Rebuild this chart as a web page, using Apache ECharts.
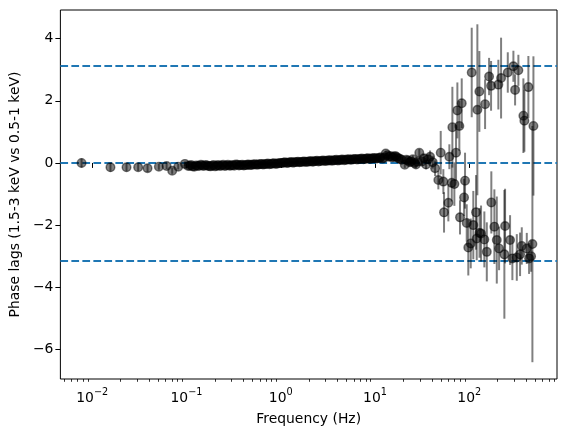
<!DOCTYPE html>
<html>
<head>
<meta charset="utf-8">
<script src="https://cdn.jsdelivr.net/npm/echarts@6/dist/echarts.min.js"></script>
<style>
  html, body { margin: 0; padding: 0; background: #fff; }
  #chart { width: 565px; height: 437px; }
</style>
</head>
<body>
<div id="chart"></div>
<script>
// frequency (Hz), phase lag (rad) and its 1-sigma error
const freqHz = [
  0.0077, 0.0156, 0.0231, 0.0307, 0.0386, 0.0509, 0.0615, 0.0705, 0.0817, 0.0962,
  0.104, 0.112, 0.121, 0.131, 0.142, 0.153, 0.166, 0.179, 0.194, 0.209,
  0.226, 0.245, 0.264, 0.286, 0.309, 0.334, 0.361, 0.39, 0.422, 0.456,
  0.493, 0.533, 0.576, 0.623, 0.673, 0.728, 0.787, 0.851, 0.92, 0.994,
  1.07, 1.16, 1.25, 1.35, 1.46, 1.58, 1.71, 1.85, 2.0, 2.16,
  2.33, 2.52, 2.73, 2.95, 3.19, 3.45, 3.73, 4.03, 4.36, 4.71,
  5.09, 5.5, 5.95, 6.43, 6.95, 7.52, 8.13, 8.79, 9.5, 10.27,
  11.1, 12.0, 13.0, 14.0, 15.2, 16.4, 17.7, 19.2, 20.7, 22.4,
  24.2, 26.2, 28.3,
  29.5, 31.6, 33.0, 34.8, 36.5, 38.4, 41.0, 43.4, 47.0, 49.8,
  53.1, 54.0, 60.0, 61.5, 65.2, 66.2, 69.5, 72.4, 74.8, 78.5,
  79.8, 83.2, 88.1, 90.2, 94.0, 97.7, 103.7, 106.2, 110.4, 118,
  120, 121.9, 128, 128.5, 133.4, 144.6, 147.2, 153.5, 162.3, 170.4,
  171.5, 184.7, 195.9, 203.6, 207.2, 217.6, 235.8, 239.9, 256.3, 271,
  286.8, 294, 306.4, 319.4, 332, 346, 360.8, 375.2, 384.5, 407.7,
  423.9, 431.3, 453, 467.7, 479.5
];
const lagRad = [
  0.0, -0.14, -0.14, -0.14, -0.17, -0.12, -0.1, -0.25, -0.12, -0.03,
  -0.1, -0.07, -0.12, -0.09, -0.06, -0.1, -0.08, -0.11, -0.07, -0.09,
  -0.1, -0.06, -0.08, -0.09, -0.07, -0.05, -0.08, -0.06, -0.07, -0.05,
  -0.06, -0.04, -0.05, -0.03, -0.04, -0.02, -0.03, -0.01, -0.02, 0.0,
  0.01, 0.0, 0.02, 0.01, 0.03, 0.02, 0.04, 0.03, 0.05, 0.04,
  0.06, 0.05, 0.07, 0.06, 0.08, 0.07, 0.09, 0.08, 0.1, 0.09,
  0.11, 0.1, 0.12, 0.11, 0.13, 0.12, 0.14, 0.13, 0.15, 0.14,
  0.16, 0.14, 0.3, 0.2, 0.18, 0.22, 0.15, 0.1, -0.06, 0.08,
  0.05, 0.0, 0.04,
  0.33, 0.05, 0.15, -0.05, 0.12, 0.2, 0.02, -0.17, -0.55, 0.33,
  -0.6, -1.59, -1.28, 0.2, -0.64, 1.15, -0.68, 0.33, 1.69, 1.19,
  -1.75, 1.92, -1.11, -0.57, -1.93, -2.72, -2.59, 2.91, -2.0, -1.59,
  -2.43, 1.71, 2.3, -2.25, -2.27, -2.46, 1.89, -2.86, 2.78, 2.48,
  -1.27, -2.05, -2.48, 2.52, -2.75, 2.73, -2.94, -2.03, 2.91, -2.48,
  -3.07, 3.11, 2.35, -3.04, 2.98, -2.94, -2.67, 1.52, 1.36, -2.75,
  2.44, -3.07, -3.0, -2.61, 1.19
];
const lagErr = [
  0.15, 0.14, 0.13, 0.12, 0.12, 0.1, 0.1, 0.1, 0.09, 0.08,
  0.07, 0.07, 0.07, 0.06, 0.06, 0.06, 0.06, 0.05, 0.05, 0.05,
  0.05, 0.05, 0.05, 0.04, 0.04, 0.04, 0.04, 0.04, 0.04, 0.04,
  0.03, 0.03, 0.03, 0.03, 0.03, 0.03, 0.03, 0.03, 0.03, 0.03,
  0.03, 0.03, 0.03, 0.03, 0.03, 0.03, 0.03, 0.03, 0.03, 0.03,
  0.03, 0.03, 0.03, 0.03, 0.03, 0.03, 0.03, 0.03, 0.04, 0.04,
  0.04, 0.04, 0.04, 0.04, 0.05, 0.05, 0.05, 0.05, 0.05, 0.06,
  0.06, 0.06, 0.08, 0.07, 0.07, 0.08, 0.08, 0.1, 0.1, 0.1,
  0.12, 0.12, 0.12,
  0.12, 0.12, 0.14, 0.15, 0.15, 0.2, 0.2, 0.25, 0.3, 0.7,
  0.4, 0.65, 0.6, 0.4, 0.6, 1.3, 0.7, 0.9, 0.9, 0.8,
  0.55, 0.8, 0.6, 0.9, 0.6, 0.9, 0.8, 1.44, 1.1, 1.2,
  0.7, 2.75, 1.3, 0.8, 0.9, 0.9, 0.8, 0.95, 0.6, 0.8,
  1.0, 1.2, 1.4, 0.8, 0.7, 1.3, 2.07, 1.2, 0.65, 0.8,
  0.7, 0.5, 0.5, 0.75, 0.5, 0.7, 0.6, 1.2, 1.0, 0.5,
  1.0, 0.5, 0.5, 3.8, 2.24
];

// second set of bins filling the dense 0.1-30 Hz band
const bandFreqHz = [
  0.108, 0.116, 0.126, 0.136, 0.147, 0.159, 0.172, 0.186, 0.201, 0.217,
  0.235, 0.254, 0.275, 0.297, 0.321, 0.347, 0.375, 0.406, 0.439, 0.474,
  0.513, 0.554, 0.599, 0.648, 0.7, 0.757, 0.818, 0.885, 0.956,
  1.03, 1.11, 1.2, 1.3, 1.4, 1.52, 1.64, 1.78, 1.92, 2.08,
  2.24, 2.42, 2.62, 2.84, 3.07, 3.32, 3.59, 3.88, 4.19, 4.53,
  4.9, 5.29, 5.72, 6.18, 6.68, 7.23, 7.82, 8.45, 9.14, 9.88,
  10.7, 11.5, 12.5, 13.5, 14.6, 15.8, 17.0, 18.4, 21.5, 23.3,
  25.2, 27.2
];
const bandLag = [
  -0.09, -0.11, -0.08, -0.1, -0.08, -0.07, -0.1, -0.09, -0.11, -0.07,
  -0.08, -0.1, -0.06, -0.08, -0.09, -0.06, -0.07, -0.08, -0.06, -0.07,
  -0.05, -0.06, -0.04, -0.05, -0.03, -0.04, -0.02, -0.03, -0.01,
  0.0, 0.02, 0.01, 0.03, 0.02, 0.04, 0.03, 0.05, 0.04, 0.06,
  0.05, 0.07, 0.06, 0.08, 0.07, 0.09, 0.08, 0.1, 0.09, 0.11,
  0.1, 0.12, 0.11, 0.13, 0.12, 0.14, 0.13, 0.15, 0.14, 0.16,
  0.15, 0.18, 0.17, 0.25, 0.22, 0.2, 0.19, 0.13, 0.1, 0.02,
  0.12, -0.05
];
const bandErr = [
  0.07, 0.07, 0.06, 0.06, 0.06, 0.06, 0.05, 0.05, 0.05, 0.05,
  0.05, 0.05, 0.04, 0.04, 0.04, 0.04, 0.04, 0.04, 0.04, 0.03,
  0.03, 0.03, 0.03, 0.03, 0.03, 0.03, 0.03, 0.03, 0.03,
  0.03, 0.03, 0.03, 0.03, 0.03, 0.03, 0.03, 0.03, 0.03, 0.03,
  0.03, 0.03, 0.03, 0.03, 0.03, 0.03, 0.03, 0.03, 0.04, 0.04,
  0.04, 0.04, 0.04, 0.04, 0.05, 0.05, 0.05, 0.05, 0.05, 0.06,
  0.06, 0.06, 0.07, 0.08, 0.07, 0.08, 0.08, 0.09, 0.1, 0.11,
  0.12, 0.12
];

const refLines = [Math.PI, 0, -Math.PI];
const xTickValues = [0.01, 0.1, 1, 10, 100];
const xMinorValues = [
  0.005, 0.006, 0.007, 0.008, 0.009,
  0.02, 0.03, 0.04, 0.05, 0.06, 0.07, 0.08, 0.09,
  0.2, 0.3, 0.4, 0.5, 0.6, 0.7, 0.8, 0.9,
  2, 3, 4, 5, 6, 7, 8, 9,
  20, 30, 40, 50, 60, 70, 80, 90,
  200, 300, 400, 500, 600, 700, 800
];
const yTickValues = [-6, -4, -2, 0, 2, 4];

const X_MIN = 0.00459, X_MAX = 853;
const Y_MIN = -6.95, Y_MAX = 4.92;
const FONT = 'DejaVu Sans';
const GREY = 'rgba(0,0,0,0.5)';

const chart = echarts.init(document.getElementById('chart'));

const allF = freqHz.concat(bandFreqHz);
const allLag = lagRad.concat(bandLag);
const allErr = lagErr.concat(bandErr);
const points = allF.map((f, i) => [f, allLag[i]]);
const bars = allF.map((f, i) => [f, allLag[i] - allErr[i], allLag[i] + allErr[i]]);

const option = {
  animation: false,
  backgroundColor: '#fff',
  textStyle: { fontFamily: FONT },
  grid: {
    left: 60, right: 8, top: 10, bottom: 58,
    show: true, borderColor: '#000', borderWidth: 1, backgroundColor: 'transparent'
  },
  xAxis: [
    {
      type: 'log', logBase: 10, min: X_MIN, max: X_MAX,
      name: 'Frequency (Hz)', nameLocation: 'middle', nameGap: 33,
      nameTextStyle: { fontFamily: FONT, fontSize: 13.9, color: '#000' },
      axisLine: { show: false },
      splitLine: { show: false },
      axisTick: { show: true, inside: false, length: 5, customValues: xTickValues,
                  lineStyle: { color: '#000', width: 1 } },
      axisLabel: {
        customValues: xTickValues, margin: 8, color: '#000',
        formatter: v => '{b|10}{s|' + String(Math.round(Math.log10(v))).replace('-', '\u2212') + '}',
        rich: {
          b: { fontFamily: FONT, fontSize: 13.9, color: '#000', verticalAlign: 'bottom', lineHeight: 18 },
          s: { fontFamily: FONT, fontSize: 9.7, color: '#000', verticalAlign: 'top', lineHeight: 18 }
        }
      }
    },
    {
      type: 'log', logBase: 10, min: X_MIN, max: X_MAX, position: 'bottom', offset: 0,
      axisLine: { show: false }, splitLine: { show: false }, axisLabel: { show: false },
      axisTick: { show: true, inside: false, length: 2.8, customValues: xMinorValues,
                  lineStyle: { color: '#000', width: 0.8 } }
    }
  ],
  yAxis: {
    type: 'value', min: Y_MIN, max: Y_MAX,
    name: 'Phase lags (1.5-3 keV vs 0.5-1 keV)', nameLocation: 'middle', nameGap: 38,
    nameTextStyle: { fontFamily: FONT, fontSize: 13.9, color: '#000' },
    axisLine: { show: false },
    splitLine: { show: false },
    axisTick: { show: true, inside: false, length: 5, customValues: yTickValues,
                lineStyle: { color: '#000', width: 1 } },
    axisLabel: {
      customValues: yTickValues, margin: 7, color: '#000',
      fontFamily: FONT, fontSize: 13.9,
      formatter: v => String(v).replace('-', '\u2212')
    }
  },
  series: [
    {
      type: 'custom',
      name: 'errors',
      clip: true,
      z: 2,
      encode: { x: 0, y: [1, 2] },
      data: bars,
      renderItem: (params, api) => {
        const p1 = api.coord([api.value(0), api.value(1)]);
        const p2 = api.coord([api.value(0), api.value(2)]);
        return {
          type: 'line',
          shape: { x1: p1[0], y1: p1[1], x2: p2[0], y2: p2[1] },
          style: { stroke: GREY, lineWidth: 2 }
        };
      },
      markLine: {
        silent: true,
        symbol: 'none',
        z: 1,
        label: { show: false },
        lineStyle: { color: '#1f77b4', width: 2, type: [7.7, 3.3] },
        data: refLines.map(v => ({ yAxis: v }))
      }
    },
    {
      type: 'scatter',
      name: 'lags',
      z: 3,
      symbol: 'circle',
      symbolSize: 8.6,
      data: points,
      itemStyle: { color: GREY, borderColor: GREY, borderWidth: 1.4, opacity: 1 }
    }
  ]
};

chart.setOption(option);
</script>
</body>
</html>
